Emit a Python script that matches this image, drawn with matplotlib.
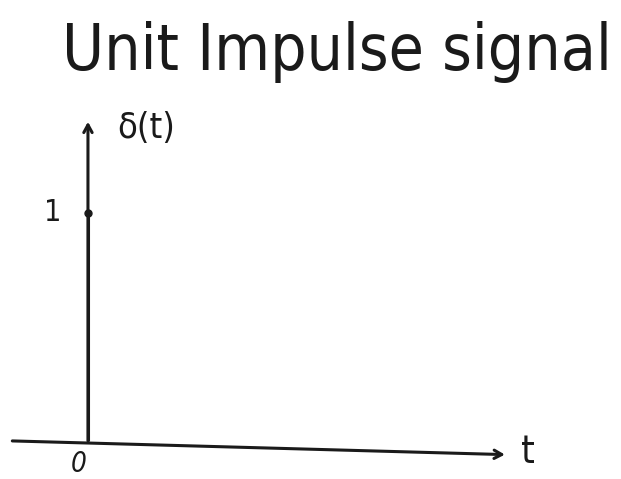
import matplotlib
matplotlib.use("Agg")
import matplotlib.pyplot as plt

# Unit impulse: a single sample of height 1 at t = 0
t_impulse = [0.0]
amplitude = [1.0]

title_text = "Unit Impulse signal"
y_label = "δ(t)"
x_label = "t"
x_tick_labels = ["0"]
y_tick_labels = ["1"]

ink = "#1a1a1a"
font = dict(family="DejaVu Sans", fontstretch="condensed")

fig = plt.figure(figsize=(6.21, 4.79), dpi=100)
ax = fig.add_axes([0, 0, 1, 1])
ax.set_xlim(-1.0, 6.06)
ax.set_ylim(-0.167, 1.934)
ax.axis("off")

arrow = dict(arrowstyle="->,head_length=0.55,head_width=0.3",
             lw=2.2, color=ink, shrinkA=0, shrinkB=0)
# Horizontal time axis
ax.annotate("", xy=(4.74, -0.06), xytext=(-0.86, 0.0), arrowprops=arrow)
# Vertical amplitude axis
ax.annotate("", xy=(0.0, 1.40), xytext=(0.0, 0.0), arrowprops=arrow)

# Impulse stem and its tip marker
for t, a in zip(t_impulse, amplitude):
    ax.vlines(t, 0, a, color=ink, lw=2.2)
    ax.plot([t], [a], "o", color=ink, ms=5)

# Tick annotations
ax.text(-0.3, amplitude[0], y_tick_labels[0], fontsize=22, ha="right",
        va="center", color=ink, **font)
ax.text(t_impulse[0] - 0.1, -0.04, x_tick_labels[0], fontsize=20,
        ha="center", va="top", color=ink, style="italic", **font)

# Axis labels
ax.text(4.92, -0.05, x_label, fontsize=28, ha="left", va="center",
        color=ink, **font)
ax.text(0.33, 1.33, y_label, fontsize=26, ha="left", va="baseline",
        color=ink, **font)

# Heading
ax.text(62 / 621, 1 - 70 / 479, title_text, transform=ax.transAxes,
        fontsize=46, ha="left", va="baseline", color=ink, **font)

fig.savefig("out.png", dpi=100)
